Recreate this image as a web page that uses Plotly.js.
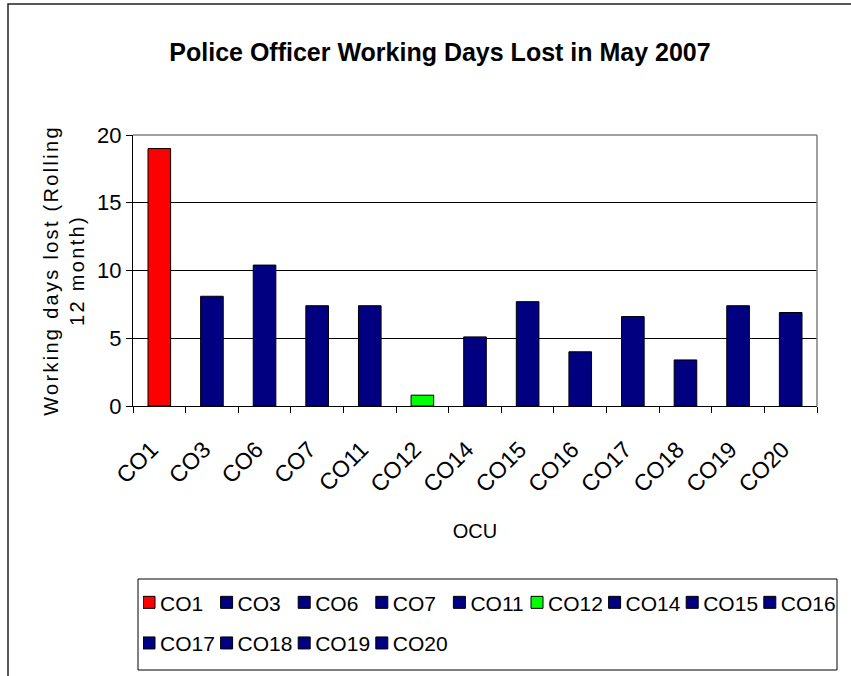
<!DOCTYPE html>
<html>
<head>
<meta charset="utf-8">
<script src="https://cdn.plot.ly/plotly-3.0.1.min.js"></script>
<style>
  html, body { margin: 0; padding: 0; background: #fff; }
  #chart { width: 851px; height: 676px; }
  /* Excel-style compact legend: colour square right before its label */
  g.legendpoints { transform: translateX(-14px); }
  text.legendtext, text.legend2text { transform: translateX(-23px); }
  .ytitle { letter-spacing: 2.3px; }
</style>
</head>
<body>
<div id="chart"></div>
<script>
// ---- data ----
const categories = ['CO1', 'CO3', 'CO6', 'CO7', 'CO11', 'CO12', 'CO14', 'CO15', 'CO16', 'CO17', 'CO18', 'CO19', 'CO20'];
const values = [19.0, 8.1, 10.4, 7.4, 7.4, 0.8, 5.1, 7.7, 4.0, 6.6, 3.4, 7.4, 6.9];
const barColors = ['#FF0000', '#000080', '#000080', '#000080', '#000080', '#00FF00', '#000080', '#000080', '#000080', '#000080', '#000080', '#000080', '#000080'];
const yTicks = [0, 5, 10, 15, 20];
const titleText = 'Police Officer Working Days Lost in May 2007';
const yTitleText = 'Working days lost (Rolling<br>12 month)';
const xTitleText = 'OCU';

// ---- layout geometry (pixels) ----
const W = 851, H = 676;
const M = { l: 133, r: 34, t: 135, b: 270 };
const PW = W - M.l - M.r, PH = H - M.t - M.b;
const px = x => (x - M.l) / PW;
const py = y => (H - M.b - y) / PH;

const FONT = 'Arial, "Liberation Sans", sans-serif';

const traces = categories.map((c, i) => ({
  type: 'bar',
  x: [c],
  y: [values[i]],
  name: c,
  marker: { color: barColors[i], line: { color: '#000000', width: 1 } },
  legend: i < 9 ? 'legend' : 'legend2',
  hoverinfo: 'x+y'
}));

const legendCommon = {
  orientation: 'h',
  xref: 'paper', yref: 'paper',
  yanchor: 'middle',
  bgcolor: 'rgba(0,0,0,0)',
  borderwidth: 0,
  entrywidth: 32.6,
  entrywidthmode: 'pixels',
  font: { family: FONT, size: 21, color: '#000' }
};

const layout = {
  width: W, height: H,
  margin: { l: M.l, r: M.r, t: M.t, b: M.b, autoexpand: false },
  paper_bgcolor: '#ffffff',
  plot_bgcolor: '#ffffff',
  barmode: 'overlay',
  bargap: 0.57,
  showlegend: true,
  font: { family: FONT, color: '#000' },
  title: {
    text: '<b>' + titleText + '</b>',
    font: { family: FONT, size: 25, color: '#000' },
    xref: 'container', yref: 'container',
    x: 440 / W, xanchor: 'center',
    y: 1 - 52 / H, yanchor: 'middle'
  },
  xaxis: {
    type: 'category',
    categoryorder: 'array',
    categoryarray: categories,
    tickson: 'boundaries',
    ticks: 'outside', ticklen: 6, tickcolor: '#000', tickwidth: 1,
    showline: true, linecolor: '#000', linewidth: 1,
    showgrid: false,
    tickangle: -45,
    ticklabelstandoff: 20,
    ticklabelshift: -8,
    tickfont: { family: FONT, size: 23, color: '#000' },
    title: { text: xTitleText, font: { family: FONT, size: 20, color: '#000' }, standoff: 27 },
    automargin: false,
    fixedrange: true
  },
  yaxis: {
    range: [0, 20],
    tickvals: yTicks,
    ticktext: yTicks.map(String),
    ticks: 'outside', ticklen: 6, tickcolor: '#000', tickwidth: 1,
    showline: true, linecolor: '#000', linewidth: 1,
    showgrid: true, gridcolor: '#000', gridwidth: 1,
    zeroline: false,
    tickfont: { family: FONT, size: 22, color: '#000' },
    title: { text: yTitleText, font: { family: FONT, size: 20, color: '#000' }, standoff: 7 },
    automargin: false,
    fixedrange: true
  },
  legend: Object.assign({}, legendCommon, { x: px(842), xanchor: 'right', y: py(602.7) }),
  legend2: Object.assign({}, legendCommon, { x: px(143), xanchor: 'left', y: py(643.3) }),
  shapes: [
    // plot area top & right border (grey)
    { type: 'line', xref: 'paper', yref: 'paper', x0: 0, x1: 1, y0: 1, y1: 1, line: { color: '#808080', width: 1.5 }, layer: 'above' },
    { type: 'line', xref: 'paper', yref: 'paper', x0: 1, x1: 1, y0: 0, y1: 1, line: { color: '#808080', width: 1.5 }, layer: 'above' },
    // legend box
    { type: 'rect', xref: 'paper', yref: 'paper', x0: px(138), x1: px(837), y0: py(579), y1: py(670), line: { color: '#000', width: 1 }, fillcolor: 'rgba(0,0,0,0)' },
    // chart area frame
    { type: 'rect', xref: 'paper', yref: 'paper', x0: px(8), x1: px(870), y0: py(4), y1: py(700), line: { color: '#222', width: 1.5 }, fillcolor: 'rgba(0,0,0,0)' }
  ]
};

Plotly.newPlot('chart', traces, layout, { displayModeBar: false, responsive: false });
</script>
</body>
</html>
